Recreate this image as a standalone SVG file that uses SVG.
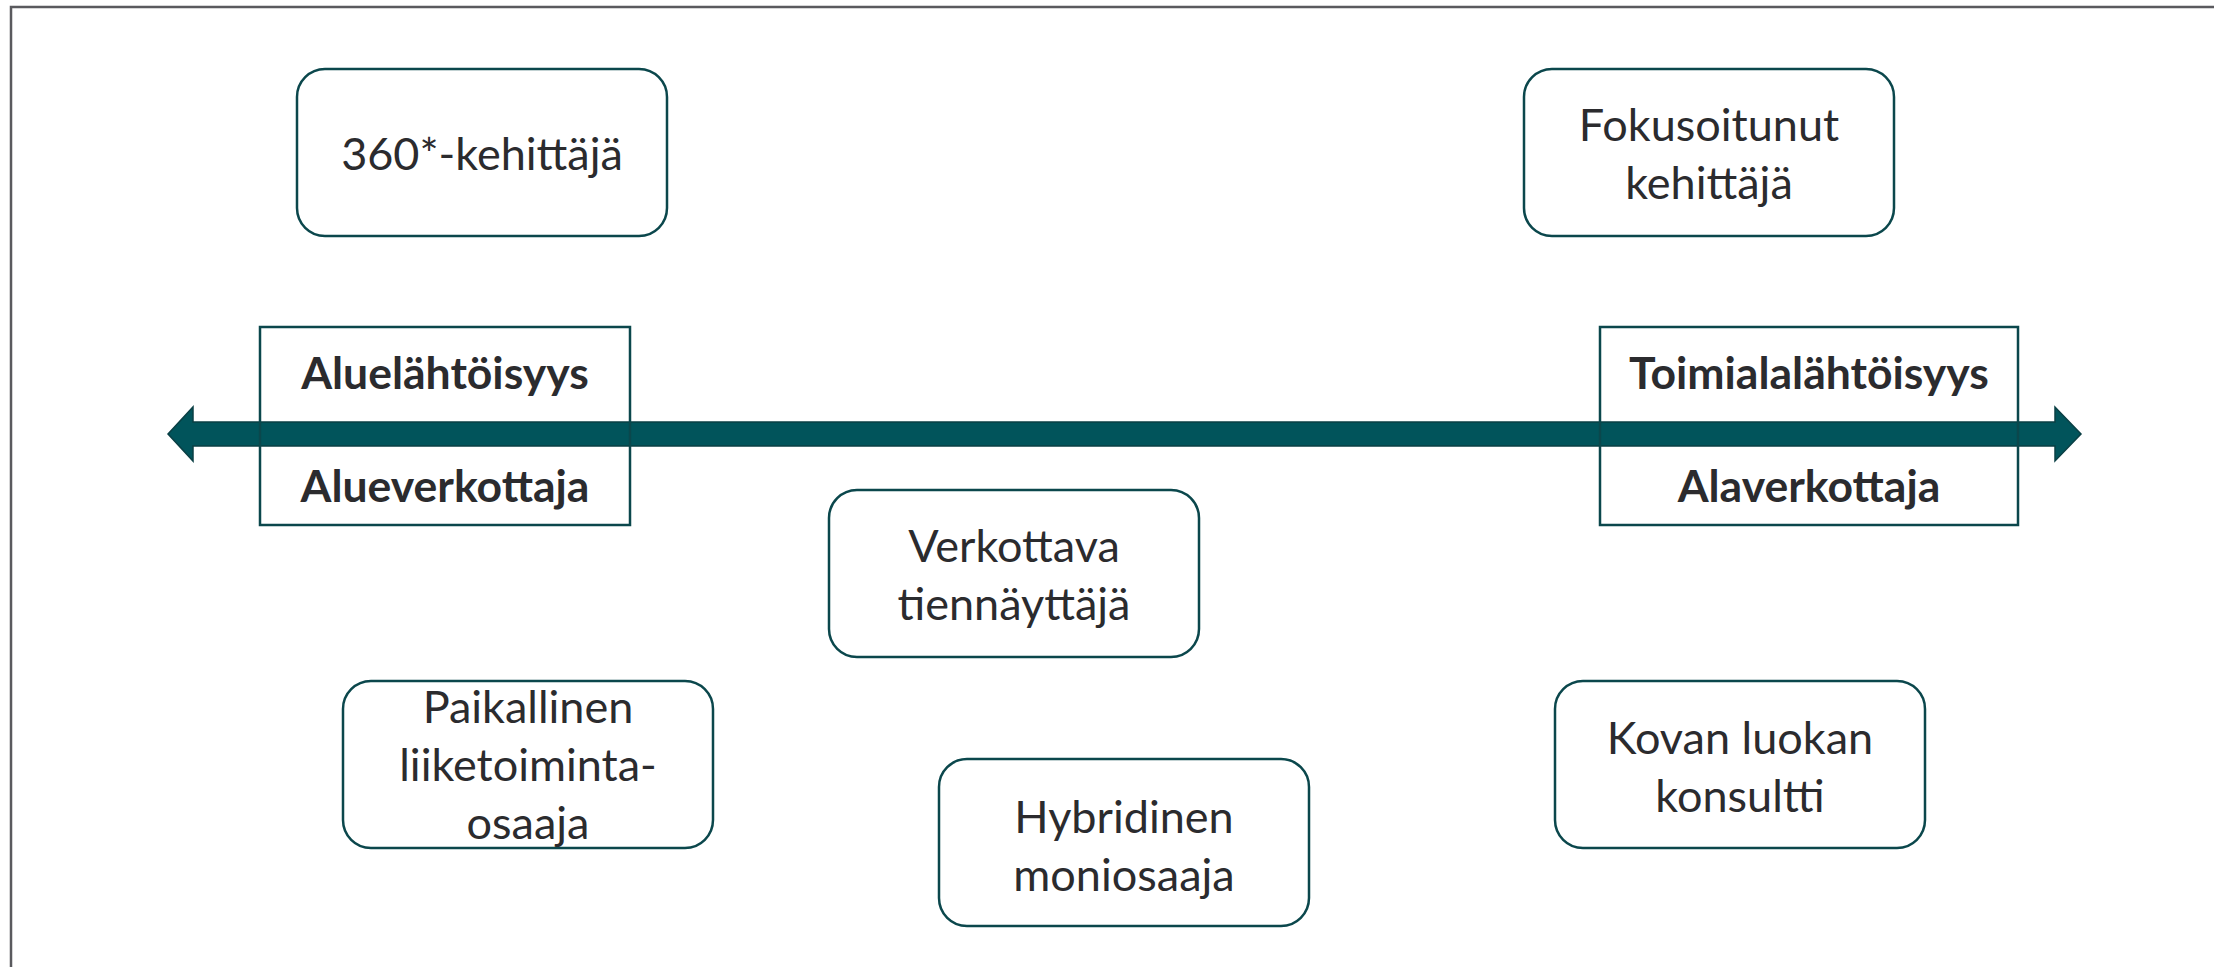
<svg xmlns="http://www.w3.org/2000/svg" width="2214" height="967" viewBox="0 0 2214 967">
<style>
.node{fill:#ffffff;stroke:#0b474c;stroke-width:2.5}
.lab{fill:none;stroke:#0b474c;stroke-width:2.5}
.t{font-family:Lato,"Open Sans",sans-serif;font-size:45px;fill:#2b2b2e;text-anchor:middle}
.b{font-family:Lato,"Open Sans",sans-serif;font-size:44.5px;font-weight:bold;fill:#2b2b2e;text-anchor:middle}
</style>
<rect x="0" y="0" width="2214" height="967" fill="#ffffff"/>
<path d="M11 967 V7 H2214" fill="none" stroke="#5a5a5e" stroke-width="2.5"/>
<g id="connectors">
<path d="M168 434 L193 407 L193 422 L2055 422 L2055 407 L2081 434 L2055 461 L2055 446 L193 446 L193 461 Z" fill="#01545b" stroke="#0a3f44" stroke-width="1.5"/>
</g>
<g id="alue">
<rect class="lab" x="260" y="327" width="370" height="198"/>
<text class="b" x="445" y="389">Aluelähtöisyys</text>
<text class="b" x="445" y="502">Alueverkottaja</text>
</g>
<g id="toimiala">
<rect class="lab" x="1600" y="327" width="418" height="198"/>
<text class="b" x="1809" y="389">Toimialalähtöisyys</text>
<text class="b" x="1809" y="502">Alaverkottaja</text>
</g>
<g id="n360">
<rect class="node" x="297" y="69" width="370" height="167" rx="28"/>
<text class="t" x="482" y="170">360*-kehittäjä</text>
</g>
<g id="fokusoitunut">
<rect class="node" x="1524" y="69" width="370" height="167" rx="28"/>
<text class="t" x="1709" y="141">Fokusoitunut</text>
<text class="t" x="1709" y="199">kehittäjä</text>
</g>
<g id="verkottava">
<rect class="node" x="829" y="490" width="370" height="167" rx="28"/>
<text class="t" x="1014" y="562">Verkottava</text>
<text class="t" x="1014" y="620">tiennäyttäjä</text>
</g>
<g id="paikallinen">
<rect class="node" x="343" y="681" width="370" height="167" rx="28"/>
<text class="t" x="528" y="723">Paikallinen</text>
<text class="t" x="528" y="781">liiketoiminta-</text>
<text class="t" x="528" y="839">osaaja</text>
</g>
<g id="hybridinen">
<rect class="node" x="939" y="759" width="370" height="167" rx="28"/>
<text class="t" x="1124" y="833">Hybridinen</text>
<text class="t" x="1124" y="891">moniosaaja</text>
</g>
<g id="kovan">
<rect class="node" x="1555" y="681" width="370" height="167" rx="28"/>
<text class="t" x="1740" y="754">Kovan luokan</text>
<text class="t" x="1740" y="812">konsultti</text>
</g>
</svg>
